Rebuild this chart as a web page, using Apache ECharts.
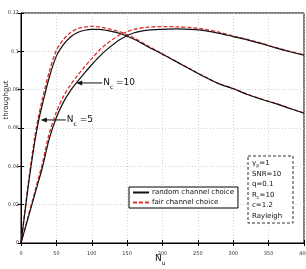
<!DOCTYPE html>
<html>
<head>
<meta charset="utf-8">
<script src="https://cdn.jsdelivr.net/npm/echarts@6/dist/echarts.min.js"></script>
<style>
  html, body { margin: 0; padding: 0; background: #fff; }
  #main { width: 306px; height: 269px; }
</style>
</head>
<body>
<div id="main"></div>
<script>
// N_u sample points
var nu = [0, 5, 10, 15, 20, 25, 30, 40, 50, 60, 70, 80, 90, 100, 110, 120, 140, 160, 180, 200, 220, 240, 260, 280, 300, 320, 340, 360, 380, 400];

// Nc = 5
var randomNc5 = [0, 0.0145, 0.029, 0.042, 0.054, 0.064, 0.072, 0.0865, 0.0975, 0.1035, 0.1075, 0.1098, 0.111, 0.1115, 0.1115, 0.111, 0.1093, 0.1063, 0.1023, 0.0985, 0.0945, 0.0905, 0.0866, 0.083, 0.0805, 0.0775, 0.075, 0.0727, 0.0702, 0.0677];
var fairNc5 = [0, 0.0152, 0.0305, 0.0442, 0.0565, 0.0665, 0.0748, 0.0895, 0.1005, 0.1062, 0.1098, 0.1118, 0.1127, 0.113, 0.1128, 0.1121, 0.1101, 0.1069, 0.1027, 0.0987, 0.0946, 0.0906, 0.0867, 0.0831, 0.0806, 0.0776, 0.0751, 0.0728, 0.0703, 0.0678];

// Nc = 10
var randomNc10 = [0, 0.0065, 0.013, 0.0195, 0.026, 0.0325, 0.039, 0.0545, 0.0655, 0.0735, 0.0795, 0.0843, 0.0888, 0.093, 0.097, 0.1005, 0.1062, 0.1097, 0.1111, 0.1115, 0.1117, 0.1115, 0.1108, 0.1094, 0.1077, 0.106, 0.104, 0.1018, 0.0998, 0.098];
var fairNc10 = [0, 0.0069, 0.0138, 0.0206, 0.0274, 0.0343, 0.0412, 0.0572, 0.0683, 0.0765, 0.0825, 0.0875, 0.092, 0.0962, 0.1003, 0.1036, 0.1087, 0.1114, 0.1126, 0.1129, 0.1128, 0.1124, 0.1115, 0.11, 0.108, 0.1062, 0.1042, 0.102, 0.1, 0.0982];

var xTicks = [0, 400, 50];
var yTicks = [0, 0.12, 0.02];

var paramLines = ['{g|γ}{s|p}{t|=1}', '{t|SNR=10}', '{t|q=0.1}', '{t|R}{s|c}{t|=10}', '{t|c=1.2}', '{t|Rayleigh}'];

function pairs(ys) {
  return nu.map(function (x, i) { return [x, ys[i]]; });
}

var chart = echarts.init(document.getElementById('main'));

var grid = { left: 21, right: 2, top: 13, bottom: 26, outerBoundsMode: 'none', containLabel: false, show: true, borderColor: '#000', borderWidth: 1, backgroundColor: 'transparent' };
var gridLine = { show: true, lineStyle: { color: '#c4c4c4', type: [1, 2], width: 0.8 } };
var tickLabel = { fontSize: 5, color: '#333', fontFamily: 'DejaVu Sans' };

function blackLine(name, ys) {
  return { name: name, type: 'line', data: pairs(ys), symbol: 'none', smooth: 0.3, lineStyle: { color: '#111', width: 1.2 }, itemStyle: { color: '#111' }, z: 3 };
}
function redLine(name, ys) {
  return { name: name, type: 'line', data: pairs(ys), symbol: 'none', smooth: 0.3, lineStyle: { color: '#e0302f', width: 1.3, type: [4, 2] }, itemStyle: { color: '#e0302f' }, z: 2 };
}

var option = {
  animation: false,
  grid: grid,
  legend: {
    data: ['random channel choice', 'fair channel choice'],
    orient: 'vertical', left: 129, top: 187,
    itemWidth: 16, itemHeight: 6, itemGap: 3,
    padding: [2, 4, 2, 3],
    itemStyle: { opacity: 0 },
    borderColor: '#000', borderWidth: 1, backgroundColor: '#fff', borderRadius: 0,
    textStyle: { fontSize: 7, color: '#111', fontFamily: 'DejaVu Sans', padding: [0, 0, 0, -2] }
  },
  xAxis: [{
    type: 'value', min: xTicks[0], max: xTicks[1], interval: xTicks[2],
    axisLine: { lineStyle: { color: '#000' } },
    axisTick: { inside: true, length: 3, lineStyle: { color: '#000' } },
    axisLabel: tickLabel,
    splitLine: gridLine
  }, {
    type: 'value', position: 'top', min: xTicks[0], max: xTicks[1], interval: xTicks[2],
    axisLine: { show: false }, axisLabel: { show: false }, splitLine: { show: false },
    axisTick: { inside: true, length: 3, lineStyle: { color: '#000' } }
  }],
  yAxis: [{
    type: 'value', min: yTicks[0], max: yTicks[1], interval: yTicks[2],
    axisLine: { show: true, lineStyle: { color: '#000' } },
    axisTick: { show: true, inside: true, length: 3, lineStyle: { color: '#000' } },
    axisLabel: Object.assign({ margin: 2, formatter: function (v) { return v === 0 ? '0' : String(+v.toFixed(2)); } }, tickLabel),
    splitLine: gridLine
  }, {
    type: 'value', position: 'right', min: yTicks[0], max: yTicks[1], interval: yTicks[2],
    axisLine: { show: false }, axisLabel: { show: false }, splitLine: { show: false },
    axisTick: { show: true, inside: true, length: 3, lineStyle: { color: '#000' } }
  }],
  series: [
    blackLine('random channel choice', randomNc5),
    redLine('fair channel choice', fairNc5),
    blackLine('random channel choice', randomNc10),
    redLine('fair channel choice', fairNc10)
  ]
};
chart.setOption(option);

// labels with arrows, anchored to data coordinates
function arrowLabel(at, dx, main, sub, rest) {
  var p = chart.convertToPixel({ gridIndex: 0 }, at);
  var tail = p[0] + dx;
  return [
    { type: 'line', shape: { x1: p[0] + 4, y1: p[1], x2: tail, y2: p[1] }, style: { stroke: '#111', lineWidth: 1 } },
    { type: 'polygon', shape: { points: [[p[0], p[1]], [p[0] + 6, p[1] - 2.5], [p[0] + 6, p[1] + 2.5]] }, style: { fill: '#111' } },
    { type: 'text', x: tail + 1, y: p[1], style: { rich: { m: { fontSize: 9, fontFamily: 'DejaVu Sans', fill: '#111' }, s: { fontSize: 6, fontFamily: 'DejaVu Sans', fill: '#111', padding: [8, 0, 0, 0] } }, text: '{m|' + main + '}{s|' + sub + '}{m| ' + rest + '}', verticalAlign: 'middle' } }
  ];
}

var els = [];
els = els.concat(arrowLabel([78, 0.0835], 26, 'N', 'c', '=10'));
els = els.concat(arrowLabel([28, 0.0642], 25, 'N', 'c', '=5'));

// axis names
els.push({ type: 'text', x: 155, y: 252, style: { rich: { m: { fontSize: 9, fontFamily: 'DejaVu Sans', fill: '#111' }, s: { fontSize: 6, fontFamily: 'DejaVu Sans', fill: '#111', padding: [8, 0, 0, 0] } }, text: '{m|N}{s|u}' } });
els.push({ type: 'text', x: 6, y: 100, rotation: Math.PI / 2, style: { text: 'throughput', fontSize: 7, fontFamily: 'DejaVu Sans', fill: '#111', align: 'center', verticalAlign: 'middle' } });

// parameter box
els.push({ type: 'rect', shape: { x: 248, y: 156, width: 45, height: 67 }, style: { fill: '#fff', stroke: '#333', lineWidth: 1, lineDash: [3, 2] } });
els.push({ type: 'text', x: 252, y: 158, style: {
  rich: {
    t: { fontSize: 7, fontFamily: 'DejaVu Sans', fill: '#111', lineHeight: 10.5 },
    g: { fontSize: 7, fontFamily: 'DejaVu Sans', fill: '#111', lineHeight: 10.5 },
    s: { fontSize: 5, fontFamily: 'DejaVu Sans', fill: '#111', padding: [5, 0, 0, 0], lineHeight: 10.5 }
  },
  text: paramLines.join('\n')
} });

chart.setOption({ graphic: { elements: els } });
</script>
</body>
</html>
